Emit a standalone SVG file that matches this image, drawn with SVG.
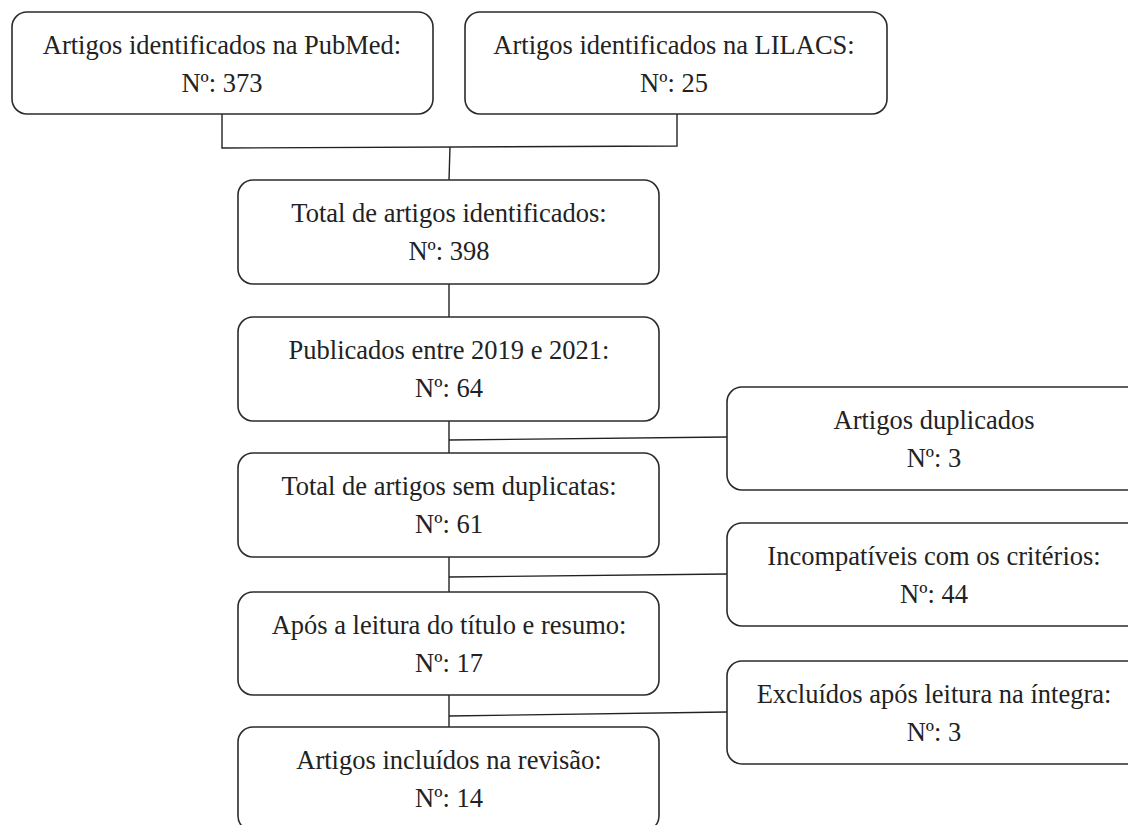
<svg xmlns="http://www.w3.org/2000/svg" width="1128" height="825" viewBox="0 0 1128 825">
<style>
.box{fill:#fff;stroke:#2b2b2b;stroke-width:1.6}
.t{font-family:"Liberation Serif","Times New Roman",serif;font-size:26.5px;fill:#222;text-anchor:middle}
.c{fill:none;stroke:#222;stroke-width:1.4}
</style>
<rect width="1128" height="825" fill="#fff"/>
<g id="connectors">
<polyline class="c" points="222,114 222,148 677,146 677,114"/>
<line class="c" x1="450" y1="147" x2="449" y2="180"/>
<line class="c" x1="449" y1="284" x2="449" y2="317"/>
<line class="c" x1="449" y1="421" x2="449" y2="453"/>
<line class="c" x1="449" y1="440" x2="727" y2="437"/>
<line class="c" x1="449" y1="557" x2="449" y2="592"/>
<line class="c" x1="449" y1="577" x2="727" y2="574"/>
<line class="c" x1="449" y1="695" x2="449" y2="727"/>
<line class="c" x1="449" y1="716" x2="727" y2="712"/>
</g>
<g id="pubmed">
<rect class="box" x="12" y="12" width="421" height="102" rx="15"/>
<text class="t" x="222" y="54">Artigos identificados na PubMed:</text>
<text class="t" x="222" y="92">Nº: 373</text>
</g>
<g id="lilacs">
<rect class="box" x="465" y="12" width="422" height="102" rx="15"/>
<text class="t" x="674" y="54">Artigos identificados na LILACS:</text>
<text class="t" x="674" y="92">Nº: 25</text>
</g>
<g id="total">
<rect class="box" x="238" y="180" width="421" height="104" rx="15"/>
<text class="t" x="449" y="222">Total de artigos identificados:</text>
<text class="t" x="449" y="260">Nº: 398</text>
</g>
<g id="publicados">
<rect class="box" x="238" y="317" width="421" height="104" rx="15"/>
<text class="t" x="449" y="359">Publicados entre 2019 e 2021:</text>
<text class="t" x="449" y="397">Nº: 64</text>
</g>
<g id="semdup">
<rect class="box" x="238" y="453" width="421" height="104" rx="15"/>
<text class="t" x="449" y="495">Total de artigos sem duplicatas:</text>
<text class="t" x="449" y="533">Nº: 61</text>
</g>
<g id="apos">
<rect class="box" x="238" y="592" width="421" height="103" rx="15"/>
<text class="t" x="449" y="634">Após a leitura do título e resumo:</text>
<text class="t" x="449" y="672">Nº: 17</text>
</g>
<g id="incluidos">
<rect class="box" x="238" y="727" width="421" height="104" rx="15"/>
<text class="t" x="449" y="769">Artigos incluídos na revisão:</text>
<text class="t" x="449" y="807">Nº: 14</text>
</g>
<g id="duplicados">
<rect class="box" x="727" y="387" width="421" height="103" rx="15"/>
<text class="t" x="934" y="429">Artigos duplicados</text>
<text class="t" x="934" y="467">Nº: 3</text>
</g>
<g id="incompativeis">
<rect class="box" x="727" y="523" width="421" height="103" rx="15"/>
<text class="t" x="934" y="565">Incompatíveis com os critérios:</text>
<text class="t" x="934" y="603">Nº: 44</text>
</g>
<g id="excluidos">
<rect class="box" x="727" y="661" width="421" height="103" rx="15"/>
<text class="t" x="934" y="703">Excluídos após leitura na íntegra:</text>
<text class="t" x="934" y="741">Nº: 3</text>
</g>
</svg>
